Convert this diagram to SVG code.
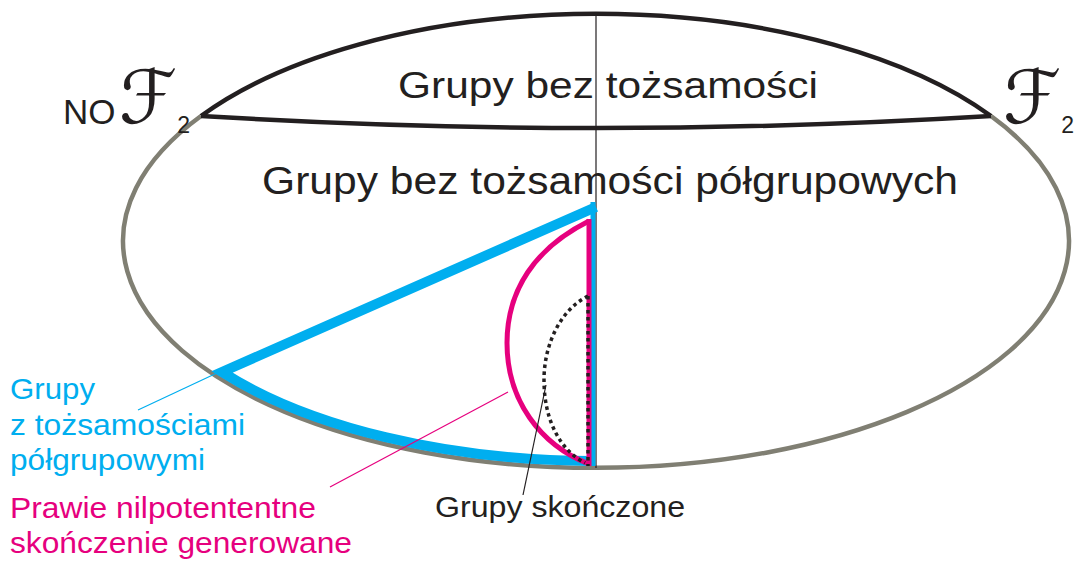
<svg xmlns="http://www.w3.org/2000/svg" width="1075" height="561" viewBox="0 0 1075 561">
<style>
text{font-family:"Liberation Sans",Arial,sans-serif;fill:#231f20}
.blue{fill:#00aeef}
.pink{fill:#e6007e}
.scr{font-family:"DejaVu Serif","DejaVu Sans",serif;font-size:74px}
.sub{font-family:"Liberation Sans",Arial,sans-serif;font-size:23px}
.thin{fill:none;stroke-width:1.2}
</style>
<rect width="1075" height="561" fill="#fff"/>
<g id="ellipse">
<path d="M 201,116 A 473 227 0 0 1 991,116" fill="none" stroke="#231f20" stroke-width="4.5"/>
<path d="M 201,116 A 473 227 0 1 0 991,116" fill="none" stroke="#807f73" stroke-width="4.5"/>
<path d="M 201,116 Q 596,140 991,116" fill="none" stroke="#231f20" stroke-width="4.5"/>
</g>
<g id="axis">
<line x1="596" y1="14" x2="596" y2="468" stroke="#231f20" stroke-width="1.2"/>
</g>
<g id="semigroup-identities">
<path d="M 596,207 L 222,372 A 466 220 0 0 0 593,461" fill="none" stroke="#00aeef" stroke-width="10" stroke-linejoin="miter"/>
<line x1="593" y1="202" x2="593" y2="466" stroke="#00aeef" stroke-width="5"/>
</g>
<g id="nilpotent">
<path d="M 589,221 C 535,248 507,290 507,343 C 507,400 540,445 589,464" fill="none" stroke="#e6007e" stroke-width="5"/>
<line x1="589" y1="219" x2="589" y2="466" stroke="#e6007e" stroke-width="5"/>
</g>
<g id="finite">
<path d="M 588,296 C 560,310 544,345 544,380 C 544,420 560,450 585,463" fill="none" stroke="#231f20" stroke-width="3.5" stroke-dasharray="3.5 3.5"/>
<line x1="588" y1="296" x2="588" y2="466" stroke="#231f20" stroke-width="3.5" stroke-dasharray="3.5 3.5"/>
</g>
<g id="connectors">
<line class="thin" x1="138" y1="410" x2="217" y2="373" stroke="#00aeef"/>
<line class="thin" x1="330" y1="487" x2="508" y2="392" stroke="#e6007e"/>
<line class="thin" x1="546" y1="385" x2="523" y2="495" stroke="#231f20"/>
</g>
<g id="labels">
<text x="398" y="98" font-size="37" textLength="420" lengthAdjust="spacingAndGlyphs">Grupy bez tożsamości</text>
<text x="262" y="194" font-size="38" textLength="696" lengthAdjust="spacingAndGlyphs">Grupy bez tożsamości półgrupowych</text>
<text x="63" y="124" font-size="35">NO</text>
<text x="119" y="123"><tspan class="scr">ℱ</tspan><tspan class="sub" dy="10">2</tspan></text>
<text x="1003" y="123"><tspan class="scr">ℱ</tspan><tspan class="sub" dy="10">2</tspan></text>
<text class="blue" x="10" y="399" font-size="29" textLength="85" lengthAdjust="spacingAndGlyphs">Grupy</text>
<text class="blue" x="10" y="435" font-size="29" textLength="235" lengthAdjust="spacingAndGlyphs">z tożsamościami</text>
<text class="blue" x="10" y="470" font-size="29" textLength="195" lengthAdjust="spacingAndGlyphs">półgrupowymi</text>
<text class="pink" x="10" y="518" font-size="29" textLength="306" lengthAdjust="spacingAndGlyphs">Prawie nilpotententne</text>
<text class="pink" x="10" y="553" font-size="29" textLength="342" lengthAdjust="spacingAndGlyphs">skończenie generowane</text>
<text x="435" y="517" font-size="30" textLength="250" lengthAdjust="spacingAndGlyphs">Grupy skończone</text>
</g>
</svg>
